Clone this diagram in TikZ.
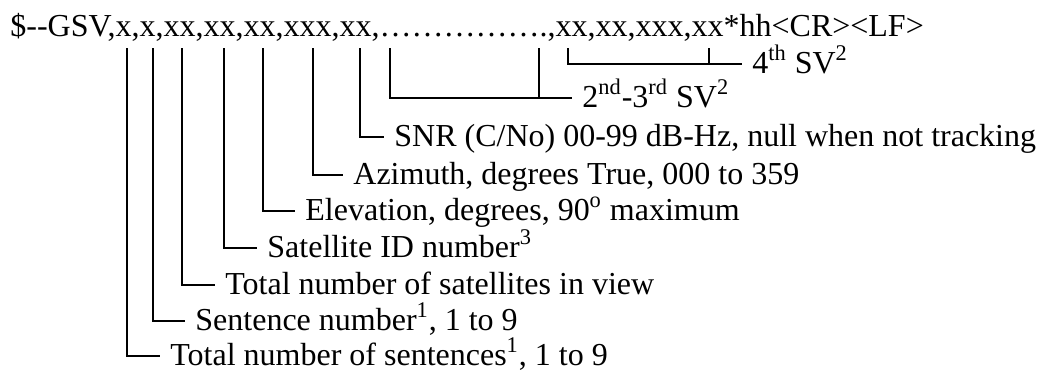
\documentclass[tikz,border=0pt]{standalone}
\usepackage{fontspec}
\setmainfont{Liberation Serif}
\usetikzlibrary{positioning}

\begin{document}
\begin{tikzpicture}[x=0.5pt,y=-0.5pt,
	every node/.style={font=\fontsize{16}{19}\selectfont},
	lbl/.style={anchor=west, inner xsep=5pt, inner ysep=0pt, text height=11.5pt, text depth=2.2pt},
	wire/.style={line width=1.2pt}]
		\useasboundingbox (0,0) rectangle (1055,372);
		%%nodes
		\node[anchor=base west, inner sep=0pt] (gsv) at (10,36) {\$-{}-GSV,x,x,xx,xx,xx,xxx,xx,…………….,xx,xx,xxx,xx*hh<CR><LF>};
		\node[lbl] (sv4) at (742,64) {4\textsuperscript{th} SV\textsuperscript{2}};
		\node[lbl] (sv23) at (572,98) {2\textsuperscript{nd}-3\textsuperscript{rd} SV\textsuperscript{2}};
		\node[lbl] (snr) at (384,137) {SNR (C/No) 00-99 dB-Hz, null when not tracking};
		\node[lbl] (azi) at (343,175) {Azimuth, degrees True, 000 to 359};
		\node[lbl] (ele) at (295,211) {Elevation, degrees, 90\textsuperscript{o} maximum};
		\node[lbl] (sid) at (257,248) {Satellite ID number\textsuperscript{3}};
		\node[lbl] (tsv) at (215,285) {Total number of satellites in view};
		\node[lbl] (snum) at (185,321) {Sentence number\textsuperscript{1}, 1 to 9};
		\node[lbl] (tsen) at (160,356) {Total number of sentences\textsuperscript{1}, 1 to 9};
		%%field ticks
		\coordinate (f1) at (127,48);
		\coordinate (f2) at (153,48);
		\coordinate (f3) at (182,48);
		\coordinate (f4) at (224,48);
		\coordinate (f5) at (263,48);
		\coordinate (f6) at (313,48);
		\coordinate (f7) at (360,48);
		\coordinate (d1) at (390,48);
		\coordinate (d2) at (539,48);
		\coordinate (e1) at (568,48);
		\coordinate (e2) at (709,48);
		%%connectors
		\draw[wire] (f1) |- (tsen.west);
		\draw[wire] (f2) |- (snum.west);
		\draw[wire] (f3) |- (tsv.west);
		\draw[wire] (f4) |- (sid.west);
		\draw[wire] (f5) |- (ele.west);
		\draw[wire] (f6) |- (azi.west);
		\draw[wire] (f7) |- (snr.west);
		\draw[wire] (d1) |- (sv23.west);
		\draw[wire] (d2) -- (d2 |- sv23.west);
		\draw[wire] (e1) |- (sv4.west);
		\draw[wire] (e2) -- (e2 |- sv4.west);
	\end{tikzpicture}
\end{document}
